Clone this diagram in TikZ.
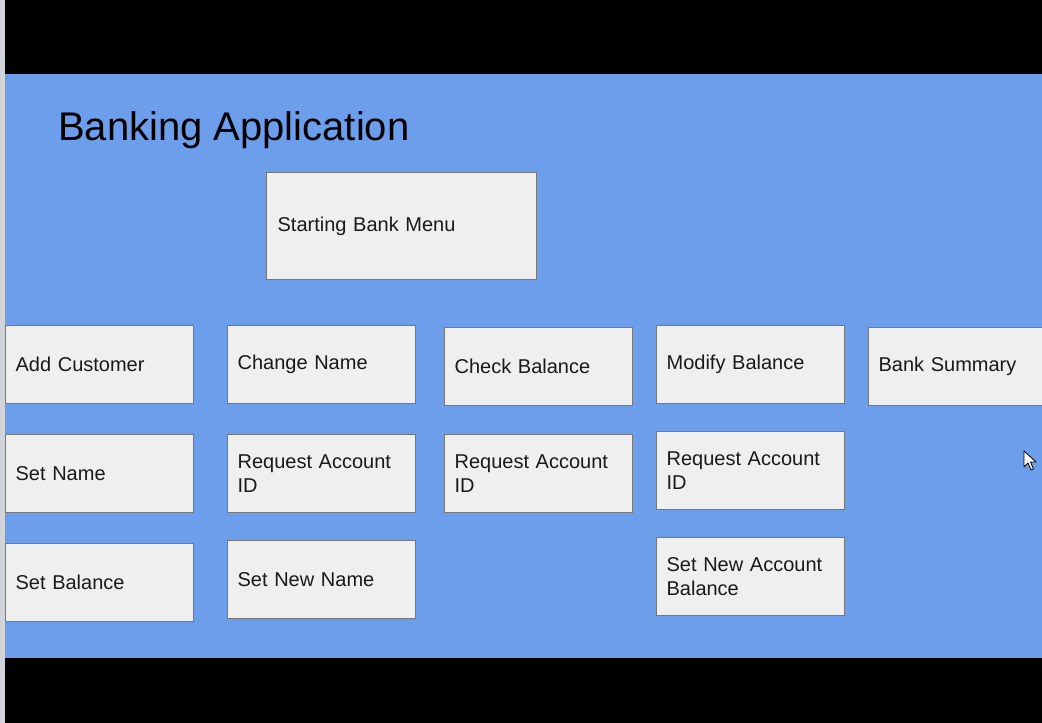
\documentclass[tikz,border=0pt]{standalone}
\usepackage{fontspec}
\setmainfont{Liberation Sans}
\definecolor{bgblue}{HTML}{6D9EEB}
\definecolor{boxfill}{HTML}{EFEFEF}
\definecolor{boxborder}{HTML}{777777}
\definecolor{strip}{HTML}{D1D4D9}
\tikzset{
  box/.style={draw=boxborder, fill=boxfill, line width=1.2pt, anchor=north west,
    inner xsep=10pt, inner ysep=0pt, text width=#1, align=left,
    minimum height=78pt, font=\fontsize{20}{24}\selectfont, text=black!90},
  box/.default=168pt
}
\begin{document}
\begin{tikzpicture}[x=1pt,y=-1pt]
\useasboundingbox (0,0) rectangle (1042,723);
\begin{scope}
\clip (0,0) rectangle (1042,723);
\fill[black] (0,0) rectangle (1042,723);
\fill[bgblue] (0,74) rectangle (1042,658);
\node[anchor=base west, font=\fontsize{40}{46}\selectfont, inner sep=0pt] (title) at (58,140) {Banking Application};
\node[box=248pt, minimum height=107pt, inner xsep=11pt] (start) at (266,172) {Starting Bank Menu\vphantom{p}};
% row 1
\node[box] (add) at (5,325) {Add Customer};
\node[box] (chname) at (227,325) {Change Name};
\node[box] (chbal) at (444,327) {Check Balance};
\node[box] (modbal) at (656,325) {Modify Balance};
\node[box=200pt] (summary) at (868,327) {Bank Summary};
% row 2
\node[box] (setname) at (5,434) {Set Name};
\node[box] (req1) at (227,434) {Request Account\\ID};
\node[box] (req2) at (444,434) {Request Account\\ID};
\node[box] (req3) at (656,431) {Request Account\\ID};
% row 3
\node[box] (setbal) at (5,543) {Set Balance};
\node[box] (setnew) at (227,540) {Set New Name};
\node[box] (setacc) at (656,537) {Set New Account\\Balance};
% cursor
\draw[fill=white, draw=black, line width=0.8pt, line join=round]
  (1024,451) -- (1024,467) -- (1028,463) -- (1031,470) -- (1033.5,469) -- (1030.5,462) -- (1036,462) -- cycle;
\fill[strip] (0,0) rectangle (5,723);
\end{scope}
\end{tikzpicture}
\end{document}
